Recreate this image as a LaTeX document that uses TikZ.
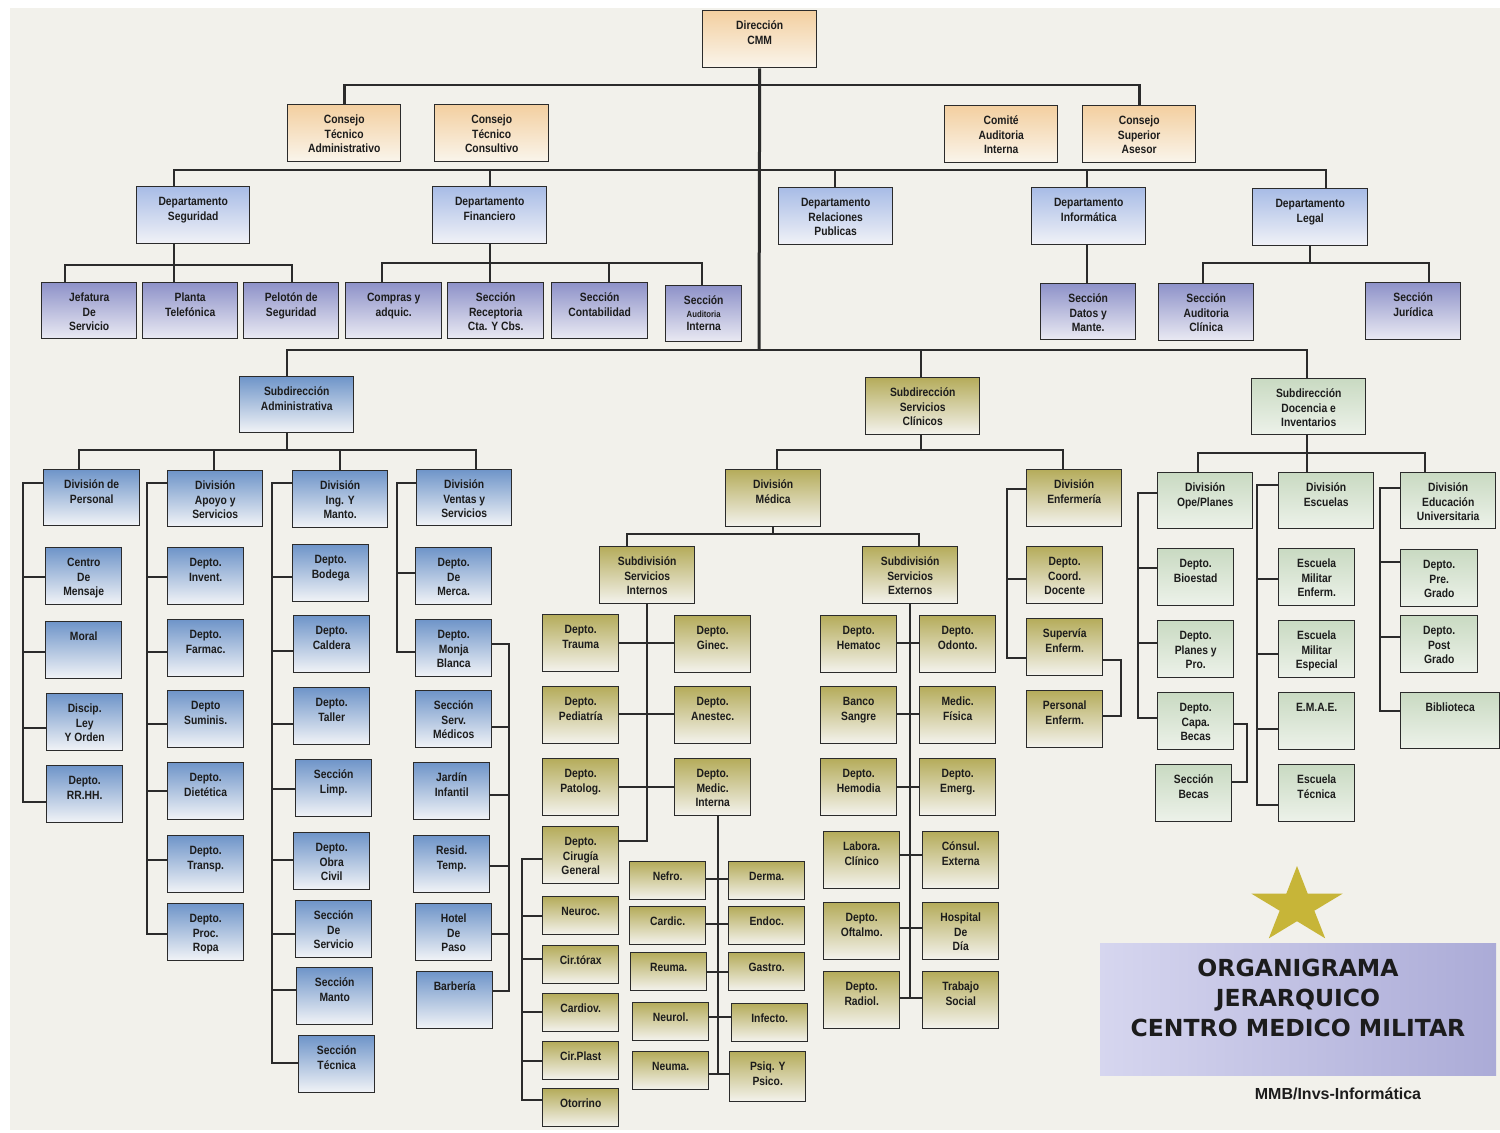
\documentclass[tikz,border=0pt]{standalone}
\usepackage{fontspec}
\newfontfamily\boxfont{Liberation Sans}[FakeStretch=0.86]
\newfontfamily\ttlfont{DejaVu Sans}
\newfontfamily\signfont{Liberation Sans}
\usetikzlibrary{calc}

\definecolor{paper}{HTML}{F2F1EB}
\definecolor{edge}{HTML}{2B2B2B}
\definecolor{ink}{HTML}{1C1C1C}
\definecolor{or1}{HTML}{F3CFA0}\definecolor{or2}{HTML}{FAF5EC}
\definecolor{db1}{HTML}{A8BCE6}\definecolor{db2}{HTML}{F1F2F7}
\definecolor{lv1}{HTML}{8E92C9}\definecolor{lv2}{HTML}{EAEAF3}
\definecolor{bl1}{HTML}{6F95C9}\definecolor{bl2}{HTML}{F2F4F7}
\definecolor{ol1}{HTML}{B5AC5B}\definecolor{ol2}{HTML}{F4F3EE}
\definecolor{gr1}{HTML}{C9DAC2}\definecolor{gr2}{HTML}{EDF2EA}
\definecolor{ttl1}{HTML}{D6D6EF}\definecolor{ttl2}{HTML}{ABABD7}
\definecolor{starc}{HTML}{C7B538}

\tikzset{
  box/.style={draw=edge, line width=1.4pt, anchor=north west, inner xsep=0pt, inner ysep=4pt,
    font=\boxfont\bfseries\fontsize{12}{14.5}\selectfont, text=ink},
  orng/.style={top color=or1, bottom color=or2},
  dpto/.style={top color=db1, bottom color=db2},
  lav/.style={top color=lv1, bottom color=lv2},
  blu/.style={top color=bl1, bottom color=bl2},
  oliv/.style={top color=ol1, bottom color=ol2},
  grn/.style={top color=gr1, bottom color=gr2},
  ln/.style={draw=edge, line width=1.6pt},
  bus/.style={draw=edge, line width=2.6pt},
}
% style, name, x, y (top left), width, height, text
\newcommand\bx[7]{\node[box,#1] (#2) at (#3,#4) {\parbox[c][\dimexpr#6pt-8pt\relax][t]{#5pt}{\centering\rule{0pt}{15pt}#7}};}

\begin{document}
\begin{tikzpicture}[x=1pt,y=-1pt]
  \useasboundingbox (0,0) rectangle (1500,1133);
  \fill[white] (0,0) rectangle (1500,1133);
  \fill[paper] (10,8) rectangle (1500,1130);

  %%%%% DIRECCION %%%%%
  \bx{orng}{dir}{702}{10}{114}{57}{Dirección\\CMM}
  \bx{orng}{cta}{287}{104}{113}{57}{Consejo\\Técnico\\Administrativo}
  \bx{orng}{ctc}{434}{104}{114}{57}{Consejo\\Técnico\\Consultivo}
  \bx{orng}{cai}{944}{105}{113}{57}{Comité\\Auditoria\\Interna}
  \bx{orng}{csa}{1082}{105}{113}{57}{Consejo\\Superior\\Asesor}

  \bx{dpto}{dseg}{136}{186}{113}{57}{Departamento\\Seguridad}
  \bx{dpto}{dfin}{432}{186}{114}{57}{Departamento\\Financiero}
  \bx{dpto}{drp}{778}{187}{114}{57}{Departamento\\Relaciones\\Publicas}
  \bx{dpto}{dinf}{1031}{187}{114}{57}{Departamento\\Informática}
  \bx{dpto}{dleg}{1252}{188}{115}{57}{Departamento\\Legal}

  \bx{lav}{jds}{41}{282}{95}{56}{Jefatura\\De\\Servicio}
  \bx{lav}{ptel}{142}{282}{95}{56}{Planta\\Telefónica}
  \bx{lav}{pseg}{243}{282}{95}{56}{Pelotón de\\Seguridad}
  \bx{lav}{cadq}{345}{282}{96}{56}{Compras y\\adquic.}
  \bx{lav}{srec}{447}{282}{96}{56}{Sección\\Receptoria\\Cta. Y Cbs.}
  \bx{lav}{scon}{551}{282}{96}{56}{Sección\\Contabilidad}
  \bx{lav}{saud}{665}{285}{76}{56}{Sección\\[-2pt]{\fontsize{9}{11}\selectfont Auditoria}\\[-1pt]Interna}
  \bx{lav}{sdat}{1040}{283}{95}{56}{Sección\\Datos y\\Mante.}
  \bx{lav}{sauc}{1158}{283}{95}{57}{Sección\\Auditoria\\Clínica}
  \bx{lav}{sjur}{1365}{282}{95}{57}{Sección\\Jurídica}

  %%%%% SUBDIRECCION ADMINISTRATIVA %%%%%
  \bx{blu}{sadm}{239}{376}{114}{56}{Subdirección\\Administrativa}
  \bx{blu}{dper}{43}{469}{96}{56}{División de\\Personal}
  \bx{blu}{dapo}{167}{470}{95}{56}{División\\Apoyo y\\Servicios}
  \bx{blu}{ding}{292}{470}{95}{57}{División\\Ing. Y\\Manto.}
  \bx{blu}{dven}{416}{469}{95}{56}{División\\Ventas y\\Servicios}

  \bx{blu}{cmen}{45}{547}{76}{57}{Centro\\De\\Mensaje}
  \bx{blu}{mor}{45}{621}{76}{57}{Moral}
  \bx{blu}{dly}{46}{693}{76}{57}{Discip.\\Ley\\Y Orden}
  \bx{blu}{drh}{46}{765}{76}{57}{Depto.\\RR.HH.}

  \bx{blu}{inv}{167}{547}{76}{57}{Depto.\\Invent.}
  \bx{blu}{far}{167}{619}{76}{57}{Depto.\\Farmac.}
  \bx{blu}{sum}{167}{690}{76}{57}{Depto\\Suminis.}
  \bx{blu}{die}{167}{762}{76}{57}{Depto.\\Dietética}
  \bx{blu}{tra}{167}{835}{76}{57}{Depto.\\Transp.}
  \bx{blu}{pro}{167}{903}{76}{57}{Depto.\\Proc.\\Ropa}

  \bx{blu}{bod}{292}{544}{76}{57}{Depto.\\Bodega}
  \bx{blu}{cal}{293}{615}{76}{57}{Depto.\\Caldera}
  \bx{blu}{tal}{293}{687}{76}{57}{Depto.\\Taller}
  \bx{blu}{lim}{295}{759}{76}{57}{Sección\\Limp.}
  \bx{blu}{obr}{293}{832}{76}{57}{Depto.\\Obra\\Civil}
  \bx{blu}{sser}{295}{900}{76}{57}{Sección\\De\\Servicio}
  \bx{blu}{sman}{296}{967}{76}{57}{Sección\\Manto}
  \bx{blu}{stec}{298}{1035}{76}{57}{Sección\\Técnica}

  \bx{blu}{mer}{415}{547}{76}{57}{Depto.\\De\\Merca.}
  \bx{blu}{mon}{415}{619}{76}{57}{Depto.\\Monja\\Blanca}
  \bx{blu}{smed}{415}{690}{76}{57}{Sección\\Serv.\\Médicos}
  \bx{blu}{jar}{413}{762}{76}{57}{Jardín\\Infantil}
  \bx{blu}{res}{413}{835}{76}{57}{Resid.\\Temp.}
  \bx{blu}{hot}{415}{903}{76}{57}{Hotel\\De\\Paso}
  \bx{blu}{bar}{416}{971}{76}{57}{Barbería}

  %%%%% SUBDIRECCION SERVICIOS CLINICOS %%%%%
  \bx{oliv}{scli}{865}{377}{114}{57}{Subdirección\\Servicios\\Clínicos}
  \bx{oliv}{dmed}{725}{469}{95}{57}{División\\Médica}
  \bx{oliv}{den}{1026}{469}{95}{57}{División\\Enfermería}
  \bx{oliv}{sdi}{599}{546}{95}{57}{Subdivisión\\Servicios\\Internos}
  \bx{oliv}{sde}{862}{546}{95}{57}{Subdivisión\\Servicios\\Externos}

  \bx{oliv}{trau}{542}{614}{76}{57}{Depto.\\Trauma}
  \bx{oliv}{gin}{674}{615}{76}{57}{Depto.\\Ginec.}
  \bx{oliv}{ped}{542}{686}{76}{57}{Depto.\\Pediatría}
  \bx{oliv}{ane}{674}{686}{76}{57}{Depto.\\Anestec.}
  \bx{oliv}{pat}{542}{758}{76}{57}{Depto.\\Patolog.}
  \bx{oliv}{mint}{674}{758}{76}{57}{Depto.\\Medic.\\Interna}
  \bx{oliv}{cir}{542}{826}{76}{57}{Depto.\\Cirugía\\General}
  \bx{oliv}{neu}{542}{896}{76}{38}{Neuroc.}
  \bx{oliv}{ctor}{542}{945}{76}{38}{Cir.tórax}
  \bx{oliv}{cdv}{542}{993}{76}{38}{Cardiov.}
  \bx{oliv}{cpl}{542}{1041}{76}{38}{Cir.Plast}
  \bx{oliv}{oto}{542}{1088}{76}{38}{Otorrino}

  \bx{oliv}{nef}{629}{861}{76}{38}{Nefro.}
  \bx{oliv}{der}{728}{861}{76}{38}{Derma.}
  \bx{oliv}{cdc}{629}{906}{76}{38}{Cardic.}
  \bx{oliv}{endo}{728}{906}{76}{38}{Endoc.}
  \bx{oliv}{reu}{630}{952}{76}{38}{Reuma.}
  \bx{oliv}{gas}{728}{952}{76}{38}{Gastro.}
  \bx{oliv}{nrl}{632}{1002}{76}{38}{Neurol.}
  \bx{oliv}{infc}{731}{1003}{76}{38}{Infecto.}
  \bx{oliv}{neum}{632}{1051}{76}{38}{Neuma.}
  \bx{oliv}{psi}{729}{1051}{76}{50}{Psiq. Y\\Psico.}

  \bx{oliv}{hem}{820}{615}{76}{57}{Depto.\\Hematoc}
  \bx{oliv}{odo}{919}{615}{76}{57}{Depto.\\Odonto.}
  \bx{oliv}{ban}{820}{686}{76}{57}{Banco\\Sangre}
  \bx{oliv}{mfi}{919}{686}{76}{57}{Medic.\\Física}
  \bx{oliv}{hmd}{820}{758}{76}{57}{Depto.\\Hemodia}
  \bx{oliv}{emg}{919}{758}{76}{57}{Depto.\\Emerg.}
  \bx{oliv}{lab}{823}{831}{76}{57}{Labora.\\Clínico}
  \bx{oliv}{cex}{922}{831}{76}{57}{Cónsul.\\Externa}
  \bx{oliv}{oft}{823}{902}{76}{57}{Depto.\\Oftalmo.}
  \bx{oliv}{hdd}{922}{902}{76}{57}{Hospital\\De\\Día}
  \bx{oliv}{rad}{823}{971}{76}{57}{Depto.\\Radiol.}
  \bx{oliv}{tso}{922}{971}{76}{57}{Trabajo\\Social}

  \bx{oliv}{cdo}{1026}{546}{76}{57}{Depto.\\Coord.\\Docente}
  \bx{oliv}{sup}{1026}{618}{76}{57}{Supervía\\Enferm.}
  \bx{oliv}{pen}{1026}{690}{76}{57}{Personal\\Enferm.}

  %%%%% SUBDIRECCION DOCENCIA %%%%%
  \bx{grn}{sdoc}{1251}{378}{114}{56}{Subdirección\\Docencia e\\Inventarios}
  \bx{grn}{dop}{1157}{472}{95}{56}{División\\Ope/Planes}
  \bx{grn}{des}{1278}{472}{95}{56}{División\\Escuelas}
  \bx{grn}{deu}{1400}{472}{95}{56}{División\\Educación\\Universitaria}

  \bx{grn}{bio}{1157}{548}{76}{57}{Depto.\\Bioestad}
  \bx{grn}{ppr}{1157}{620}{76}{57}{Depto.\\Planes y\\Pro.}
  \bx{grn}{cap}{1157}{692}{76}{57}{Depto.\\Capa.\\Becas}
  \bx{grn}{sbe}{1155}{764}{76}{57}{Sección\\Becas}
  \bx{grn}{emen}{1278}{548}{76}{57}{Escuela\\Militar\\Enferm.}
  \bx{grn}{mes}{1278}{620}{76}{57}{Escuela\\Militar\\Especial}
  \bx{grn}{emae}{1278}{692}{76}{57}{E.M.A.E.}
  \bx{grn}{etc}{1278}{764}{76}{57}{Escuela\\Técnica}
  \bx{grn}{pre}{1400}{549}{77}{57}{Depto.\\Pre.\\Grado}
  \bx{grn}{pos}{1400}{615}{77}{57}{Depto.\\Post\\Grado}
  \bx{grn}{bib}{1400}{692}{99}{56}{Biblioteca}

  %%%%% LINEAS %%%%%
  \coordinate (b1) at (759,85);
  \coordinate (b2) at (759,170);
  \coordinate (b3) at (759,350);
  \draw[bus, line width=3pt] (dir.south) -- (b3);
  \draw[bus] (cta.north) |- (b1) -| (csa.north);
  \draw[bus] (dseg.north -| 174,0) |- (b2) -| (dleg.north -| 1326,0);
  \foreach \n/\x in {dfin/490,drp/835,dinf/1087}
    \draw[ln] (\n.north -| \x,0) -- (\x,170);
  \draw[bus] (sadm.north -| 287,0) |- (b3) -| (sdoc.north -| 1307,0);
  \draw[ln] (scli.north -| 921,0) -- (921,350);

  % seguridad y financiero
  \draw[ln] (dseg.south -| 174,0) -- (174,265);
  \draw[ln] (jds.north -| 65,0) |- (292,265) -- (pseg.north -| 292,0);
  \draw[ln] (ptel.north -| 174,0) -- (174,265);
  \draw[ln] (dfin.south -| 490,0) -- (490,263);
  \draw[ln] (cadq.north -| 382,0) |- (702,263) -- (saud.north -| 702,0);
  \draw[ln] (srec.north -| 490,0) -- (490,263);
  \draw[ln] (scon.north -| 609,0) -- (609,263);
  \draw[ln] (dinf.south -| 1087,0) -- (sdat.north -| 1087,0);
  \draw[ln] (dleg.south -| 1310,0) -- (1310,263);
  \draw[ln] (sauc.north -| 1203,0) |- (1429,263) -- (sjur.north -| 1429,0);

  % administrativa
  \draw[ln] (sadm.south -| 287,0) -- (287,450);
  \draw[ln] (dper.north -| 79,0) |- (476,450) -- (dven.north -| 476,0);
  \draw[ln] (dapo.north -| 214,0) -- (214,450);
  \draw[ln] (ding.north -| 340,0) -- (340,450);
  \draw[ln] (dper.west |- 0,483) -- (23,483) |- (drh.west |- 0,802);
  \foreach \n/\y in {cmen/577,mor/652,dly/728}
    \draw[ln] (23,\y) -- (\n.west |- 0,\y);
  \draw[ln] (dapo.west |- 0,483) -- (147,483) |- (pro.west |- 0,934);
  \foreach \n/\y in {inv/577,far/652,sum/724,die/791,tra/860}
    \draw[ln] (147,\y) -- (\n.west |- 0,\y);
  \draw[ln] (ding.west |- 0,483) -- (272,483) |- (stec.west |- 0,1063);
  \foreach \n/\y in {bod/577,cal/651,tal/724,lim/789,obr/860,sser/934,sman/990}
    \draw[ln] (272,\y) -- (\n.west |- 0,\y);
  \draw[ln] (dven.west |- 0,483) -- (397,483) |- (mon.west |- 0,652);
  \draw[ln] (397,573) -- (mer.west |- 0,573);
  \draw[ln] (mon.east |- 0,644) -- (509,644) |- (bar.east |- 0,991);
  \foreach \n/\y in {smed/727,jar/795,res/866,hot/934}
    \draw[ln] (509,\y) -- (\n.east |- 0,\y);

  % servicios clinicos
  \draw[ln] (scli.south -| 921,0) -- (921,450);
  \draw[ln] (dmed.north -| 777,0) |- (1063,450) -- (den.north -| 1063,0);
  \draw[ln] (dmed.south) -- (dmed.south |- 0,534);
  \draw[ln] (sdi.north -| 627,0) |- (919,534) -- (sde.north -| 919,0);
  \draw[ln] (sdi.south -| 647,0) -- (647,841) -- (cir.east |- 0,841);
  \foreach \a/\b/\y in {trau/gin/643,ped/ane/714,pat/mint/787}
    \draw[ln] (\a.east |- 0,\y) -- (\b.west |- 0,\y);
  \draw[ln] (cir.west |- 0,859) -- (522,859) |- (oto.west |- 0,1100);
  \foreach \n/\y in {neu/916,ctor/959,cdv/1012,cpl/1061}
    \draw[ln] (522,\y) -- (\n.west |- 0,\y);
  \draw[ln] (mint.south -| 718,0) -- (718,1074);
  \foreach \a/\b/\y in {nef/der/879,cdc/endo/924,reu/gas/972,nrl/infc/1017,neum/psi/1074}
    \draw[ln] (\a.east |- 0,\y) -- (\b.west |- 0,\y);
  \draw[ln] (sde.south -| 910,0) -- (910,998);
  \foreach \a/\b/\y in {hem/odo/643,ban/mfi/714,hmd/emg/787,lab/cex/855,oft/hdd/928,rad/tso/998}
    \draw[ln] (\a.east |- 0,\y) -- (\b.west |- 0,\y);
  \draw[ln] (den.west |- 0,489) -- (1007,489) |- (sup.west |- 0,658);
  \draw[ln] (1007,579) -- (cdo.west |- 0,579);
  \draw[ln] (sup.east |- 0,660) -- (1121,660) |- (pen.east |- 0,716);

  % docencia
  \draw[ln] (sdoc.south -| 1307,0) -- (1307,453);
  \draw[ln] (dop.north -| 1198,0) |- (1425,453) -- (deu.north -| 1425,0);
  \draw[ln] (des.north -| 1307,0) -- (1307,453);
  \draw[ln] (dop.west |- 0,493) -- (1138,493) |- (cap.west |- 0,718);
  \foreach \n/\y in {bio/568,ppr/643}
    \draw[ln] (1138,\y) -- (\n.west |- 0,\y);
  \draw[ln] (cap.east |- 0,724) -- (1247,724) |- (sbe.east |- 0,782);
  \draw[ln] (des.west |- 0,485) -- (1257,485) |- (etc.west |- 0,805);
  \foreach \n/\y in {emen/579,mes/654,emae/729}
    \draw[ln] (1257,\y) -- (\n.west |- 0,\y);
  \draw[ln] (deu.west |- 0,488) -- (1380,488) |- (bib.west |- 0,711);
  \foreach \n/\y in {pre/562,pos/637}
    \draw[ln] (1380,\y) -- (\n.west |- 0,\y);

  %%%%% TITULO %%%%%
  \fill[starc] plot[samples at={0,...,9}, variable=\k]
    ({1297+48*(1-0.62*mod(\k,2))*cos(-90+36*\k)}, {906+40*(1-0.62*mod(\k,2))*sin(-90+36*\k)}) -- cycle;
  \shade[left color=ttl1, right color=ttl2] (1100,943) rectangle (1496,1075);
  \node[font=\ttlfont\bfseries\fontsize{23.5}{30}\selectfont, align=center, text=ink] (ttl) at (1298,998)
    {ORGANIGRAMA\\JERARQUICO\\CENTRO MEDICO MILITAR};
  \node[font=\signfont\bfseries\fontsize{16}{18}\selectfont, text=ink] (mmb) at (1338,1094) {MMB/Invs-Informática};
\end{tikzpicture}
\end{document}
